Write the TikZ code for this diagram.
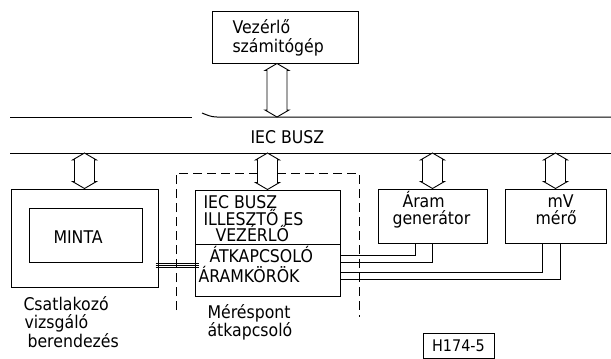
\documentclass[tikz,border=0pt]{standalone}
\usepackage{fontspec}
\setmainfont{DejaVu Sans}[FakeStretch=0.9]
\usetikzlibrary{calc}
\newcommand{\hollowbiarrow}[2]{%
  \path[arr] let \p1=(#1), \p2=(#2) in
  (\x1,\y1) -- (\x1+12pt,\y1-7pt) -- (\x1+10pt,\y1-7pt) -- (\x1+10pt,\y2+7pt)
  -- (\x1+12pt,\y2+7pt) -- (\x1,\y2) -- (\x1-12pt,\y2+7pt) -- (\x1-10pt,\y2+7pt)
  -- (\x1-10pt,\y1-7pt) -- (\x1-12pt,\y1-7pt) -- cycle;}
\begin{document}
\begin{tikzpicture}[x=1pt,y=-1pt,
  line width=1pt,
  box/.style={draw, inner sep=0pt, line width=1pt},
  txt/.style={font=\fontsize{17.5}{18}\selectfont, inner sep=0pt, anchor=base west},
  arr/.style={draw, fill=white, line width=0.9pt, line join=miter},
  dashbox/.style={dash pattern=on 9pt off 5pt, line width=1pt},
  wire/.style={line width=0.9pt},
  thinwire/.style={line width=0.6pt}]
\useasboundingbox (0,0) rectangle (611,359);

% controlling computer
\node[box, minimum width=146pt, minimum height=52pt] (comp) at (285,37) {};
\node[txt] (comp1) at (232,33) {Vezérlő};
\node[txt] (comp2) at (232,52) {számitógép};

% IEC bus
\coordinate (busT) at (277,117);
\coordinate (busB) at (10,153);
\draw (10,117) -- (192,117);
\draw (202,113) .. controls (207,115) and (211,117) .. (217,117) -- (611,117);
\draw (busB) -- (611,153);
\node[txt] (buslbl) at (250,143) {IEC BUSZ};

% test fixture
\node[box, minimum width=147pt, minimum height=98pt] (csat) at (84.5,238) {};
\node[box, minimum width=113pt, minimum height=54pt] (minta) at (85.5,235) {};
\node[txt] (mintalbl) at (53,243) {MINTA};
\node[txt] (cs1) at (23,310) {Csatlakozó};
\node[txt] (cs2) at (24,328) {vizsgáló};
\node[txt] (cs3) at (27,347) {berendezés};

% measuring point switch (dashed)
\draw[dashbox] (176,310) -- (176,173) -- (359,173) -- (359,317);
\node[box, minimum width=145pt, minimum height=54pt] (iec) at (267.5,217) {};
\node[box, minimum width=145pt, minimum height=52pt] (atk) at (267.5,270) {};
\node[txt] (iec1) at (203,208) {IEC BUSZ};
\node[txt] (iec2) at (203,225) {ILLESZTŐ ES};
\node[txt] (iec3) at (215,241) {VEZÉRLŐ};
\node[txt] (atk1) at (209,262) {ÁTKAPCSOLÓ};
\node[txt] (atk2) at (198,282) {ÁRAMKÖRÖK};
\node[txt] (mp1) at (207,318) {Méréspont};
\node[txt] (mp2) at (207,336) {átkapcsoló};

% current generator and mV meter
\node[box, minimum width=109pt, minimum height=54pt] (aram) at (432.5,216) {};
\node[txt] (aram1) at (402,207) {Áram};
\node[txt] (aram2) at (392,224) {generátor};
\node[box, minimum width=101pt, minimum height=54pt] (mv) at (555.5,216) {};
\node[txt] (mv1) at (547,207) {mV};
\node[txt] (mv2) at (535,224) {mérő};

% bus arrows
\hollowbiarrow{busT |- comp.south}{busT}
\hollowbiarrow{csat.north |- busB}{csat.north}
\hollowbiarrow{iec.north |- busB}{iec.north}
\hollowbiarrow{aram.north |- busB}{aram.north}
\hollowbiarrow{mv.north |- busB}{mv.north}

% wiring
\foreach \d in {-7,-5,-3}
  \draw[thinwire] ($(csat.east |- atk.west)+(-3,\d)$) -- ($(atk.west)+(4,\d)$);
\draw[wire] ($(atk.east)+(0,-15)$) -| ($(aram.south)+(-17.5,0)$);
\draw[wire] ($(atk.east)+(0,-8)$) -| ($(aram.south)+(-0.5,0)$);
\draw[wire] ($(atk.east)+(0,2)$) -| ($(mv.south)+(-13.5,0)$);
\draw[wire] ($(atk.east)+(0,9)$) -| ($(mv.south)+(4.5,0)$);

% figure code
\node[box, minimum width=71pt, minimum height=25pt, font=\fontsize{16}{18}\selectfont] (code) at (458.5,345.5) {H174-5};
\end{tikzpicture}
\end{document}
